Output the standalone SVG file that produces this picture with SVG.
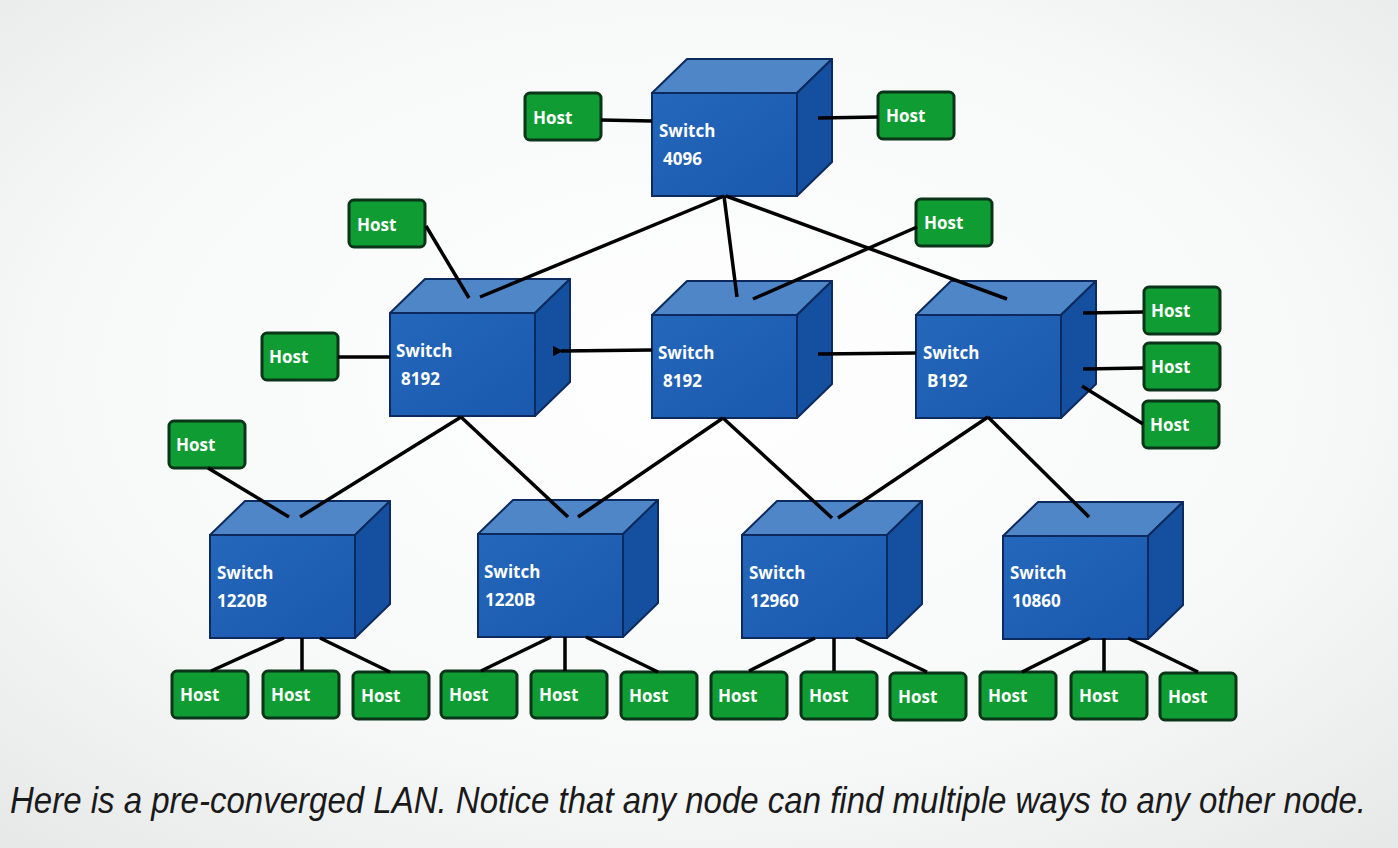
<svg xmlns="http://www.w3.org/2000/svg" xmlns:xlink="http://www.w3.org/1999/xlink" width="1398" height="848" viewBox="0 0 1398 848">
<defs>
<radialGradient id="bg" cx="50%" cy="45%" r="75%">
<stop offset="0" stop-color="#ffffff"/>
<stop offset="0.6" stop-color="#f7f8f8"/>
<stop offset="1" stop-color="#e6e8e8"/>
</radialGradient>
<linearGradient id="front" x1="0" y1="0" x2="1" y2="1">
<stop offset="0" stop-color="#2467bb"/>
<stop offset="1" stop-color="#1a59ad"/>
</linearGradient>
<g id="cube">
<polygon points="0,0 35,-34 180,-34 145,0" fill="#4f86c7" stroke="#0c2a5e" stroke-width="2" stroke-linejoin="round"/>
<polygon points="145,0 180,-34 180,69 145,103" fill="#154f9f" stroke="#0c2a5e" stroke-width="2" stroke-linejoin="round"/>
<rect x="0" y="0" width="145" height="103" fill="url(#front)" stroke="#0c2a5e" stroke-width="2"/>
</g>
<rect id="hostbox" x="0" y="0" width="76" height="47" rx="5" fill="#0f9c33" stroke="#0b3518" stroke-width="3"/>
<marker id="arr" viewBox="0 0 10 10" refX="2" refY="5" markerWidth="3" markerHeight="3" orient="auto-start-reverse" markerUnits="strokeWidth">
<path d="M0,5 L10,0 L10,10 Z" fill="#000"/>
</marker>
</defs>
<style>
.sw{font-family:"Open Sans","Noto Sans",sans-serif;font-weight:700;font-size:17px;fill:#ffffff}
.ht{font-family:"Open Sans","Noto Sans",sans-serif;font-weight:700;font-size:17px;fill:#ffffff}
.ln{stroke:#000;stroke-width:3.5;stroke-linecap:butt;fill:none}
.cap{font-family:"Liberation Sans","DejaVu Sans",sans-serif;font-style:italic;font-size:37px;fill:#1a1a1a}
</style>
<rect x="0" y="0" width="1398" height="848" fill="url(#bg)"/>

<g id="switch-4096"><use xlink:href="#cube" href="#cube" transform="translate(652,93)"/><text class="sw" x="659" y="137">Switch</text><text class="sw" x="663" y="165">4096</text></g>
<g id="switch-8192-left"><use xlink:href="#cube" href="#cube" transform="translate(390,313)"/><text class="sw" x="396" y="357">Switch</text><text class="sw" x="401" y="385">8192</text></g>
<g id="switch-8192-mid"><use xlink:href="#cube" href="#cube" transform="translate(652,315)"/><text class="sw" x="658" y="359">Switch</text><text class="sw" x="663" y="387">8192</text></g>
<g id="switch-b192"><use xlink:href="#cube" href="#cube" transform="translate(916,315)"/><text class="sw" x="923" y="359">Switch</text><text class="sw" x="927" y="387">B192</text></g>
<g id="switch-1220b-1"><use xlink:href="#cube" href="#cube" transform="translate(210,535)"/><text class="sw" x="217" y="579">Switch</text><text class="sw" x="217" y="607">1220B</text></g>
<g id="switch-1220b-2"><use xlink:href="#cube" href="#cube" transform="translate(478,534)"/><text class="sw" x="484" y="578">Switch</text><text class="sw" x="485" y="606">1220B</text></g>
<g id="switch-12960"><use xlink:href="#cube" href="#cube" transform="translate(742,535)"/><text class="sw" x="749" y="579">Switch</text><text class="sw" x="750" y="607">12960</text></g>
<g id="switch-10860"><use xlink:href="#cube" href="#cube" transform="translate(1003,536)"/><text class="sw" x="1010" y="579">Switch</text><text class="sw" x="1012" y="607">10860</text></g>

<g id="host-1"><use href="#hostbox" xlink:href="#hostbox" x="525" y="93"/><text class="ht" x="533" y="124">Host</text></g>
<g id="host-2"><use href="#hostbox" xlink:href="#hostbox" x="878" y="92"/><text class="ht" x="886" y="122">Host</text></g>
<g id="host-3"><use href="#hostbox" xlink:href="#hostbox" x="349" y="200"/><text class="ht" x="357" y="231">Host</text></g>
<g id="host-4"><use href="#hostbox" xlink:href="#hostbox" x="916" y="199"/><text class="ht" x="924" y="229">Host</text></g>
<g id="host-5"><use href="#hostbox" xlink:href="#hostbox" x="262" y="333"/><text class="ht" x="269" y="363">Host</text></g>
<g id="host-6"><use href="#hostbox" xlink:href="#hostbox" x="169" y="421"/><text class="ht" x="176" y="451">Host</text></g>
<g id="host-7"><use href="#hostbox" xlink:href="#hostbox" x="1144" y="287"/><text class="ht" x="1151" y="317">Host</text></g>
<g id="host-8"><use href="#hostbox" xlink:href="#hostbox" x="1144" y="343"/><text class="ht" x="1151" y="373">Host</text></g>
<g id="host-9"><use href="#hostbox" xlink:href="#hostbox" x="1143" y="401"/><text class="ht" x="1150" y="431">Host</text></g>
<g id="host-10"><use href="#hostbox" xlink:href="#hostbox" x="172" y="671"/><text class="ht" x="180" y="701">Host</text></g>
<g id="host-11"><use href="#hostbox" xlink:href="#hostbox" x="263" y="671"/><text class="ht" x="271" y="701">Host</text></g>
<g id="host-12"><use href="#hostbox" xlink:href="#hostbox" x="353" y="672"/><text class="ht" x="361" y="702">Host</text></g>
<g id="host-13"><use href="#hostbox" xlink:href="#hostbox" x="441" y="671"/><text class="ht" x="449" y="701">Host</text></g>
<g id="host-14"><use href="#hostbox" xlink:href="#hostbox" x="531" y="671"/><text class="ht" x="539" y="701">Host</text></g>
<g id="host-15"><use href="#hostbox" xlink:href="#hostbox" x="621" y="672"/><text class="ht" x="629" y="702">Host</text></g>
<g id="host-16"><use href="#hostbox" xlink:href="#hostbox" x="711" y="672"/><text class="ht" x="718" y="702">Host</text></g>
<g id="host-17"><use href="#hostbox" xlink:href="#hostbox" x="801" y="672"/><text class="ht" x="809" y="702">Host</text></g>
<g id="host-18"><use href="#hostbox" xlink:href="#hostbox" x="890" y="673"/><text class="ht" x="898" y="703">Host</text></g>
<g id="host-19"><use href="#hostbox" xlink:href="#hostbox" x="980" y="672"/><text class="ht" x="988" y="702">Host</text></g>
<g id="host-20"><use href="#hostbox" xlink:href="#hostbox" x="1071" y="672"/><text class="ht" x="1079" y="702">Host</text></g>
<g id="host-21"><use href="#hostbox" xlink:href="#hostbox" x="1160" y="673"/><text class="ht" x="1168" y="703">Host</text></g>

<g id="connectors">
<line class="ln" x1="601" y1="120" x2="652" y2="121"/>
<line class="ln" x1="818" y1="118" x2="878" y2="117"/>
<line class="ln" x1="724" y1="196" x2="480" y2="297"/>
<line class="ln" x1="724" y1="196" x2="737" y2="297"/>
<line class="ln" x1="726" y1="196" x2="1007" y2="299"/>
<line class="ln" x1="426" y1="226" x2="469" y2="298"/>
<line class="ln" x1="917" y1="227" x2="753" y2="299"/>
<line class="ln" x1="338" y1="357" x2="390" y2="357"/>
<line class="ln" x1="652" y1="350" x2="561" y2="351" marker-end="url(#arr)"/>
<line class="ln" x1="818" y1="354" x2="916" y2="353"/>
<line class="ln" x1="1083" y1="313" x2="1143" y2="312"/>
<line class="ln" x1="1083" y1="369" x2="1143" y2="368"/>
<line class="ln" x1="1082" y1="386" x2="1143" y2="424"/>
<line class="ln" x1="461" y1="417" x2="300" y2="517"/>
<line class="ln" x1="461" y1="417" x2="568" y2="517"/>
<line class="ln" x1="723" y1="418" x2="578" y2="517"/>
<line class="ln" x1="723" y1="418" x2="832" y2="518"/>
<line class="ln" x1="988" y1="417" x2="838" y2="518"/>
<line class="ln" x1="988" y1="417" x2="1089" y2="517"/>
<line class="ln" x1="208" y1="468" x2="289" y2="517"/>
<line class="ln" x1="284" y1="638" x2="211" y2="671"/>
<line class="ln" x1="302" y1="638" x2="302" y2="671"/>
<line class="ln" x1="320" y1="638" x2="390" y2="672"/>
<line class="ln" x1="551" y1="637" x2="481" y2="671"/>
<line class="ln" x1="565" y1="637" x2="565" y2="671"/>
<line class="ln" x1="586" y1="637" x2="658" y2="672"/>
<line class="ln" x1="815" y1="638" x2="749" y2="671"/>
<line class="ln" x1="834" y1="638" x2="834" y2="671"/>
<line class="ln" x1="856" y1="638" x2="927" y2="672"/>
<line class="ln" x1="1090" y1="638" x2="1022" y2="672"/>
<line class="ln" x1="1104" y1="638" x2="1104" y2="672"/>
<line class="ln" x1="1128" y1="638" x2="1198" y2="672"/>
</g>

<text class="cap" transform="translate(10,813) scale(0.8,1)" x="0" y="0" textLength="1695" lengthAdjust="spacingAndGlyphs">Here is a pre-converged LAN. Notice that any node can find multiple ways to any other node.</text>
</svg>
